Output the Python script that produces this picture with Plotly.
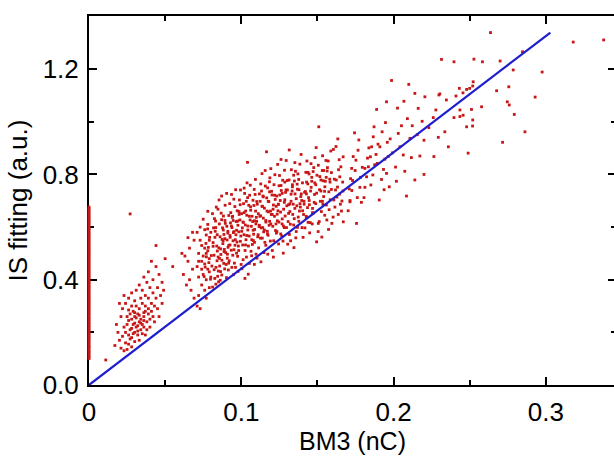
import plotly.graph_objects as go

# shots sitting on the BM3 = 0 axis (only IS fitting value read)
zero_y = [0.100, 0.106, 0.111, 0.118, 0.124, 0.129, 0.135, 0.142, 0.147, 0.153, 0.159, 0.166, 0.171, 0.177,
          0.183, 0.188, 0.195, 0.201, 0.206, 0.212, 0.219, 0.224, 0.230, 0.236, 0.242, 0.248, 0.253, 0.259,
          0.266, 0.271, 0.277, 0.283, 0.289, 0.294, 0.301, 0.306, 0.312, 0.318, 0.324, 0.330, 0.335, 0.341,
          0.348, 0.353, 0.359, 0.365, 0.371, 0.376, 0.383, 0.388, 0.394, 0.400, 0.406, 0.412, 0.417, 0.424,
          0.429, 0.435, 0.441, 0.447, 0.453, 0.458, 0.465, 0.470, 0.476, 0.482, 0.488, 0.494, 0.499, 0.506,
          0.511, 0.517, 0.523, 0.529, 0.535, 0.540, 0.547, 0.552, 0.558, 0.564, 0.570, 0.576, 0.581, 0.588,
          0.593, 0.599, 0.605, 0.611, 0.617, 0.622, 0.629, 0.634, 0.640, 0.646, 0.652, 0.658, 0.663, 0.670,
          0.676]

# low charge group (BM3, IS)
low_pts = [
    (0.027, 0.21), (0.029, 0.23), (0.031, 0.22), (0.033, 0.24), (0.028, 0.25), (0.030, 0.26), (0.032, 0.27),
    (0.034, 0.25), (0.036, 0.26), (0.035, 0.23), (0.026, 0.19), (0.028, 0.18), (0.030, 0.20), (0.032, 0.19),
    (0.034, 0.21), (0.036, 0.22), (0.038, 0.24), (0.037, 0.28), (0.033, 0.29), (0.029, 0.28), (0.025, 0.23),
    (0.024, 0.20), (0.027, 0.27), (0.031, 0.30), (0.035, 0.31), (0.039, 0.27), (0.040, 0.25), (0.038, 0.21),
    (0.033, 0.17), (0.030, 0.165), (0.026, 0.245), (0.028, 0.215), (0.030, 0.235), (0.032, 0.225), (0.034, 0.235),
    (0.036, 0.245), (0.031, 0.255), (0.029, 0.195), (0.027, 0.175), (0.035, 0.195), (0.025, 0.26), (0.023, 0.22),
    (0.022, 0.185), (0.024, 0.16), (0.026, 0.155), (0.028, 0.145), (0.030, 0.32), (0.034, 0.33), (0.037, 0.30),
    (0.039, 0.29), (0.041, 0.28), (0.042, 0.26), (0.040, 0.22), (0.037, 0.19), (0.032, 0.205), (0.030, 0.275),
    (0.033, 0.265), (0.036, 0.275), (0.028, 0.30), (0.026, 0.285),
    (0.020, 0.17), (0.019, 0.20), (0.018, 0.23), (0.021, 0.26), (0.022, 0.29), (0.024, 0.31), (0.026, 0.33),
    (0.028, 0.35), (0.031, 0.36), (0.033, 0.38), (0.035, 0.36), (0.037, 0.34), (0.039, 0.33), (0.041, 0.31),
    (0.043, 0.30), (0.045, 0.29), (0.044, 0.33), (0.042, 0.35), (0.040, 0.37), (0.038, 0.39), (0.036, 0.41),
    (0.039, 0.43), (0.042, 0.40), (0.045, 0.37), (0.047, 0.34), (0.046, 0.42), (0.048, 0.39), (0.044, 0.45),
    (0.041, 0.47), (0.049, 0.36), (0.017, 0.15), (0.021, 0.14), (0.023, 0.13), (0.025, 0.135), (0.011, 0.095),
    (0.027, 0.65), (0.044, 0.53), (0.050, 0.48), (0.055, 0.45), (0.061, 0.50), (0.020, 0.31), (0.023, 0.34),
    (0.046, 0.26), (0.043, 0.24), (0.048, 0.31),
]

# main group, 0.06 - 0.12 nC
mid_pts = [
    (0.062, 0.42), (0.064, 0.38), (0.065, 0.47), (0.066, 0.52), (0.067, 0.36), (0.068, 0.44), (0.069, 0.55),
    (0.063, 0.49), (0.066, 0.40), (0.068, 0.58), (0.069, 0.33), (0.065, 0.56),
    (0.071, 0.30), (0.072, 0.34), (0.073, 0.29), (0.074, 0.38), (0.075, 0.42), (0.071, 0.45), (0.072, 0.50),
    (0.073, 0.55), (0.074, 0.47), (0.076, 0.36), (0.077, 0.40), (0.078, 0.44), (0.079, 0.48), (0.076, 0.52),
    (0.077, 0.57), (0.078, 0.61), (0.079, 0.37), (0.075, 0.63), (0.073, 0.60), (0.071, 0.58), (0.074, 0.53),
    (0.076, 0.46), (0.078, 0.51), (0.079, 0.55), (0.077, 0.33), (0.072, 0.41), (0.075, 0.49), (0.080, 0.41),
    (0.080, 0.58), (0.078, 0.66), (0.074, 0.44), (0.076, 0.59), (0.079, 0.43), (0.072, 0.47), (0.077, 0.50),
    (0.0812, 0.372), (0.0826, 0.405), (0.0834, 0.447), (0.0848, 0.486), (0.0853, 0.521), (0.0861, 0.563),
    (0.0877, 0.597), (0.0883, 0.642), (0.0894, 0.683), (0.0807, 0.452), (0.0821, 0.493), (0.0839, 0.528),
    (0.0842, 0.571), (0.0856, 0.612), (0.0868, 0.653), (0.0872, 0.418), (0.0885, 0.462), (0.0898, 0.503),
    (0.0815, 0.541), (0.0829, 0.584), (0.0831, 0.623), (0.0847, 0.668), (0.0851, 0.392), (0.0864, 0.431),
    (0.0873, 0.474), (0.0889, 0.515), (0.0892, 0.556), (0.0818, 0.597), (0.0824, 0.632), (0.0836, 0.676),
    (0.0845, 0.413), (0.0858, 0.452), (0.0866, 0.496), (0.0879, 0.537), (0.0886, 0.572), (0.0895, 0.614),
    (0.0811, 0.651), (0.0833, 0.383), (0.0854, 0.703), (0.0871, 0.718), (0.0891, 0.441), (0.0862, 0.398),
    (0.0843, 0.509), (0.0881, 0.548), (0.0822, 0.438), (0.0904, 0.728),
    (0.0903, 0.408), (0.0915, 0.437), (0.0921, 0.472), (0.0934, 0.512), (0.0946, 0.548), (0.0952, 0.583),
    (0.0967, 0.621), (0.0973, 0.662), (0.0988, 0.703), (0.0995, 0.741), (0.0908, 0.482), (0.0913, 0.523),
    (0.0927, 0.561), (0.0939, 0.598), (0.0941, 0.637), (0.0958, 0.678), (0.0962, 0.447), (0.0976, 0.489),
    (0.0981, 0.528), (0.0997, 0.566), (0.0905, 0.603), (0.0918, 0.644), (0.0924, 0.689), (0.0936, 0.724),
    (0.0949, 0.419), (0.0955, 0.463), (0.0969, 0.501), (0.0972, 0.543), (0.0984, 0.582), (0.0991, 0.627),
    (0.0907, 0.551), (0.0912, 0.577), (0.0929, 0.616), (0.0931, 0.655), (0.0944, 0.493), (0.0959, 0.531),
    (0.0965, 0.571), (0.0978, 0.607), (0.0986, 0.648), (0.0993, 0.685), (0.0917, 0.463), (0.0938, 0.447),
    (0.0951, 0.706), (0.0963, 0.742), (0.0979, 0.432), (0.0999, 0.458), (0.0926, 0.532), (0.0947, 0.625),
    (0.1004, 0.442), (0.1012, 0.476), (0.1025, 0.511), (0.1031, 0.552), (0.1043, 0.589), (0.1058, 0.627),
    (0.1062, 0.664), (0.1077, 0.702), (0.1085, 0.743), (0.1093, 0.781), (0.1009, 0.532), (0.1018, 0.571),
    (0.1027, 0.608), (0.1036, 0.645), (0.1049, 0.683), (0.1055, 0.721), (0.1068, 0.491), (0.1073, 0.534),
    (0.1081, 0.573), (0.1096, 0.612), (0.1002, 0.651), (0.1015, 0.689), (0.1022, 0.728), (0.1038, 0.768),
    (0.1041, 0.846), (0.1053, 0.462), (0.1064, 0.508), (0.1079, 0.549), (0.1088, 0.591), (0.1099, 0.637),
    (0.1007, 0.597), (0.1014, 0.618), (0.1029, 0.661), (0.1033, 0.698), (0.1047, 0.528), (0.1052, 0.566),
    (0.1066, 0.603), (0.1071, 0.641), (0.1083, 0.682), (0.1091, 0.724), (0.1024, 0.405), (0.1046, 0.421),
    (0.1059, 0.759), (0.1086, 0.458), (0.1097, 0.497), (0.1019, 0.748), (0.1075, 0.621), (0.1034, 0.486),
    (0.1103, 0.482), (0.1114, 0.521), (0.1126, 0.558), (0.1131, 0.597), (0.1145, 0.634), (0.1152, 0.672),
    (0.1167, 0.711), (0.1173, 0.749), (0.1188, 0.787), (0.1194, 0.822), (0.1108, 0.563), (0.1117, 0.602),
    (0.1122, 0.641), (0.1139, 0.679), (0.1143, 0.718), (0.1158, 0.756), (0.1161, 0.531), (0.1176, 0.569),
    (0.1183, 0.607), (0.1197, 0.648), (0.1105, 0.687), (0.1119, 0.726), (0.1128, 0.764), (0.1136, 0.803),
    (0.1166, 0.886), (0.1149, 0.503), (0.1155, 0.542), (0.1171, 0.584), (0.1186, 0.622), (0.1192, 0.661),
    (0.1101, 0.622), (0.1112, 0.651), (0.1124, 0.698), (0.1133, 0.737), (0.1147, 0.582), (0.1162, 0.619),
    (0.1178, 0.658), (0.1181, 0.697), (0.1199, 0.736), (0.1185, 0.772), (0.1129, 0.468), (0.1157, 0.815),
    (0.1174, 0.497), (0.1191, 0.547), (0.1141, 0.598),
]

# densest part of the main group
core_pts = [
    (0.0756, 0.412), (0.0763, 0.448), (0.0771, 0.487), (0.0784, 0.523), (0.0792, 0.561), (0.0768, 0.538),
    (0.0787, 0.465), (0.0798, 0.402), (0.0803, 0.492), (0.0815, 0.527), (0.0827, 0.561), (0.0832, 0.598),
    (0.0841, 0.472), (0.0849, 0.433), (0.0779, 0.593),
    (0.0857, 0.481), (0.0865, 0.517), (0.0874, 0.553), (0.0882, 0.589), (0.0893, 0.625), (0.0901, 0.458),
    (0.0909, 0.497), (0.0918, 0.531), (0.0926, 0.568), (0.0935, 0.604), (0.0943, 0.641), (0.0952, 0.514),
    (0.0961, 0.552), (0.0969, 0.588), (0.0977, 0.623), (0.0985, 0.659), (0.0994, 0.546), (0.0871, 0.628),
    (0.0887, 0.507), (0.0912, 0.584), (0.0948, 0.579), (0.0983, 0.511),
    (0.1003, 0.584), (0.1011, 0.619), (0.1019, 0.655), (0.1028, 0.532), (0.1036, 0.568), (0.1044, 0.604),
    (0.1053, 0.641), (0.1061, 0.677), (0.1069, 0.552), (0.1078, 0.588), (0.1086, 0.624), (0.1094, 0.661),
    (0.1102, 0.697), (0.1111, 0.571), (0.1119, 0.607), (0.1127, 0.643), (0.1136, 0.679), (0.1144, 0.715),
    (0.1152, 0.589), (0.1161, 0.625), (0.1169, 0.661), (0.1177, 0.698), (0.1186, 0.734), (0.1194, 0.612),
    (0.1042, 0.712), (0.1087, 0.542), (0.1138, 0.558), (0.1172, 0.574),
    (0.1203, 0.648), (0.1211, 0.684), (0.1219, 0.721), (0.1228, 0.612), (0.1236, 0.649), (0.1244, 0.686),
    (0.1253, 0.722), (0.1261, 0.758), (0.1269, 0.631), (0.1278, 0.668), (0.1286, 0.704), (0.1294, 0.741),
    (0.1302, 0.777), (0.1311, 0.652), (0.1319, 0.688), (0.1327, 0.725), (0.1336, 0.761), (0.1344, 0.797),
    (0.1352, 0.671), (0.1361, 0.708), (0.1369, 0.744), (0.1377, 0.781), (0.1386, 0.689), (0.1394, 0.726),
    (0.1231, 0.577), (0.1283, 0.598), (0.1348, 0.632),
    (0.1403, 0.662), (0.1412, 0.698), (0.1421, 0.735), (0.1429, 0.771), (0.1438, 0.808), (0.1446, 0.701),
    (0.1455, 0.737), (0.1463, 0.774), (0.1472, 0.811), (0.1481, 0.724), (0.1489, 0.761), (0.1497, 0.797),
    (0.1506, 0.835), (0.1514, 0.742), (0.1523, 0.779), (0.1532, 0.815), (0.1541, 0.716), (0.1549, 0.753),
    (0.1558, 0.789), (0.1566, 0.826), (0.1575, 0.734), (0.1583, 0.771), (0.1592, 0.807), (0.1427, 0.641),
    (0.1468, 0.671), (0.1536, 0.687),
]

# main group, 0.12 - 0.20 nC
upper_pts = [
    (0.1204, 0.511), (0.1213, 0.548), (0.1225, 0.587), (0.1237, 0.624), (0.1241, 0.662), (0.1256, 0.701),
    (0.1263, 0.739), (0.1272, 0.778), (0.1284, 0.816), (0.1295, 0.853), (0.1207, 0.603), (0.1218, 0.641),
    (0.1229, 0.679), (0.1233, 0.718), (0.1248, 0.757), (0.1251, 0.796), (0.1266, 0.566), (0.1277, 0.604),
    (0.1288, 0.642), (0.1299, 0.681), (0.1202, 0.722), (0.1215, 0.761), (0.1221, 0.799), (0.1239, 0.838),
    (0.1245, 0.536), (0.1259, 0.574), (0.1268, 0.612), (0.1276, 0.501), (0.1283, 0.694), (0.1291, 0.732),
    (0.1209, 0.668), (0.1223, 0.705), (0.1234, 0.583), (0.1247, 0.619), (0.1258, 0.657), (0.1261, 0.857),
    (0.1274, 0.547), (0.1286, 0.771), (0.1297, 0.598), (0.1211, 0.486), (0.1243, 0.687), (0.1269, 0.728),
    (0.1305, 0.535), (0.1316, 0.572), (0.1322, 0.611), (0.1338, 0.648), (0.1341, 0.687), (0.1353, 0.726),
    (0.1367, 0.763), (0.1372, 0.802), (0.1385, 0.839), (0.1393, 0.876), (0.1308, 0.621), (0.1319, 0.659),
    (0.1327, 0.698), (0.1334, 0.737), (0.1349, 0.775), (0.1356, 0.812), (0.1361, 0.583), (0.1378, 0.622),
    (0.1382, 0.661), (0.1397, 0.701), (0.1303, 0.741), (0.1314, 0.779), (0.1329, 0.818), (0.1315, 0.893),
    (0.1346, 0.522), (0.1358, 0.559), (0.1369, 0.599), (0.1374, 0.638), (0.1388, 0.676), (0.1391, 0.716),
    (0.1311, 0.685), (0.1336, 0.753), (0.1344, 0.608), (0.1365, 0.681), (0.1379, 0.742), (0.1399, 0.598),
    (0.1324, 0.548), (0.1352, 0.845),
    (0.1406, 0.561), (0.1418, 0.597), (0.1427, 0.636), (0.1435, 0.674), (0.1442, 0.712), (0.1459, 0.751),
    (0.1463, 0.789), (0.1476, 0.826), (0.1484, 0.864), (0.1492, 0.902), (0.1409, 0.648), (0.1413, 0.687),
    (0.1428, 0.726), (0.1437, 0.764), (0.1445, 0.802), (0.1458, 0.841), (0.1466, 0.612), (0.1471, 0.651),
    (0.1489, 0.689), (0.1495, 0.729), (0.1402, 0.768), (0.1424, 0.808), (0.1431, 0.851), (0.1449, 0.578),
    (0.1453, 0.617), (0.1468, 0.655), (0.1479, 0.694), (0.1495, 0.544), (0.1416, 0.732), (0.1447, 0.685),
    (0.1483, 0.768), (0.1439, 0.618),
    (0.1505, 0.583), (0.1512, 0.621), (0.1526, 0.659), (0.1533, 0.698), (0.1547, 0.736), (0.1552, 0.774),
    (0.1564, 0.813), (0.1571, 0.851), (0.1588, 0.889), (0.1506, 0.614), (0.1519, 0.698), (0.1523, 0.737),
    (0.1538, 0.776), (0.1541, 0.815), (0.1556, 0.853), (0.1562, 0.627), (0.1577, 0.666), (0.1584, 0.704),
    (0.1592, 0.743), (0.1509, 0.981), (0.1516, 0.792), (0.1534, 0.871), (0.1548, 0.645), (0.1559, 0.684),
    (0.1573, 0.591), (0.1595, 0.614), (0.1529, 0.562), (0.1581, 0.782),
    (0.1603, 0.638), (0.1615, 0.676), (0.1628, 0.714), (0.1632, 0.752), (0.1647, 0.791), (0.1654, 0.829),
    (0.1669, 0.867), (0.1608, 0.703), (0.1619, 0.741), (0.1624, 0.779), (0.1639, 0.818), (0.1643, 0.856),
    (0.1658, 0.661), (0.1661, 0.699), (0.1668, 0.737), (0.1670, 0.620), (0.1605, 0.895), (0.1622, 0.906),
    (0.1637, 0.648), (0.1651, 0.687), (0.1666, 0.771), (0.1611, 0.782), (0.1645, 0.725), (0.1634, 0.935),
    (0.1702, 0.662), (0.1714, 0.701), (0.1726, 0.739), (0.1731, 0.777), (0.1748, 0.815), (0.1753, 0.854),
    (0.1767, 0.892), (0.1772, 0.931), (0.1709, 0.745), (0.1718, 0.784), (0.1725, 0.823), (0.1735, 0.868),
    (0.1714, 0.696), (0.1757, 0.614), (0.1762, 0.712), (0.1779, 0.751), (0.1783, 0.789), (0.1795, 0.827),
    (0.1744, 0.958), (0.1789, 0.694),
    (0.1806, 0.712), (0.1812, 0.751), (0.1823, 0.791), (0.1835, 0.829), (0.1848, 0.867), (0.1856, 0.905),
    (0.1867, 0.943), (0.1872, 0.981), (0.1889, 1.047), (0.1812, 0.823), (0.1829, 0.862), (0.1838, 0.901),
    (0.1851, 0.760), (0.1864, 0.798), (0.1876, 0.837), (0.1885, 0.876), (0.1893, 0.842), (0.1898, 0.915),
    (0.1906, 0.703), (0.1910, 0.905), (0.1921, 0.781), (0.1934, 0.819), (0.1943, 0.858), (0.1954, 1.076),
    (0.1954, 0.804), (0.1965, 0.868), (0.1972, 0.753), (0.1978, 0.935), (0.1987, 1.157), (0.1925, 0.962),
    (0.1947, 0.997), (0.1959, 0.922), (0.1993, 0.882), (0.1938, 0.742),
]

# sparse tail above 0.2 nC
tail_pts = [
    (0.2026, 1.052), (0.2042, 0.905), (0.2064, 0.874), (0.2085, 0.718), (0.2100, 1.142), (0.2108, 0.937),
    (0.2013, 0.828), (0.2031, 0.956), (0.2052, 0.985), (0.2074, 0.812), (0.2091, 1.012), (0.2019, 0.774),
    (0.2068, 1.078), (0.2140, 0.779), (0.2140, 1.108), (0.2162, 1.051), (0.2173, 0.870), (0.2200, 0.800),
    (0.2200, 0.930), (0.2123, 0.985), (0.2156, 0.951), (0.2188, 1.002), (0.2117, 0.864), (0.2206, 1.095),
    (0.2261, 1.016), (0.2265, 0.868), (0.2294, 0.941), (0.2298, 1.102), (0.2232, 0.978), (0.2278, 1.045),
    (0.2304, 1.106), (0.2315, 1.237), (0.2337, 0.962), (0.2347, 1.083), (0.2360, 0.905), (0.2397, 1.228),
    (0.2397, 1.016), (0.2410, 1.098), (0.2432, 1.127), (0.2436, 1.020), (0.2436, 1.045), (0.2456, 1.110),
    (0.2457, 1.025), (0.2480, 1.123), (0.2480, 0.981), (0.2490, 0.881), (0.2500, 1.127), (0.2512, 1.047),
    (0.2519, 0.984), (0.2520, 1.007), (0.2520, 1.136), (0.2523, 1.152), (0.2528, 1.238), (0.2578, 1.057),
    (0.2584, 1.228), (0.2637, 1.339), (0.2677, 1.118), (0.2700, 1.231), (0.2716, 0.922), (0.2747, 1.076),
    (0.2757, 1.133), (0.2760, 1.064), (0.2786, 1.197), (0.2793, 1.028), (0.2847, 1.266), (0.2863, 0.962),
    (0.2930, 1.094), (0.2976, 1.189), (0.3180, 1.303), (0.3380, 1.311),
]

# linear reference line
fit_x = [0.0, 0.303]
fit_y = [0.0, 1.339]

pts = low_pts + mid_pts + core_pts + upper_pts + tail_pts
scatter_x = [0.0] * len(zero_y) + [p[0] for p in pts]
scatter_y = zero_y + [p[1] for p in pts]

fig = go.Figure()
fig.add_trace(go.Scatter(x=scatter_x, y=scatter_y, mode='markers', cliponaxis=False,
                         marker=dict(symbol='square', size=2.8, color='rgb(200,22,22)', line=dict(width=0)),
                         showlegend=False))
fig.add_trace(go.Scatter(x=fit_x, y=fit_y, mode='lines', line=dict(color='rgb(30,30,205)', width=2.2),
                         showlegend=False))

tick_style = dict(ticks='inside', ticklen=8, tickwidth=2, tickcolor='black',
                  showline=True, linewidth=2, linecolor='black', mirror='ticks',
                  showgrid=False, zeroline=False, layer='below traces', automargin=False,
                  tickfont=dict(size=26))
minor_style = dict(ticks='inside', ticklen=5, tickwidth=2, tickcolor='black')

fig.update_layout(
    width=616, height=457,
    margin=dict(l=89, r=0, t=16, b=72),
    plot_bgcolor='white', paper_bgcolor='white',
    font=dict(family='Liberation Sans, Arial, sans-serif', color='black'),
    xaxis=dict(range=[0, 0.3461], tickvals=[0, 0.1, 0.2, 0.3], ticktext=['0', '0.1', '0.2', '0.3'],
               minor=dict(tickvals=[0.05, 0.15, 0.25], **minor_style), ticklabelstandoff=3,
               title=dict(text='BM3 (nC)', font=dict(size=25), standoff=5), **tick_style),
    yaxis=dict(range=[0, 1.402], tickvals=[0, 0.4, 0.8, 1.2], ticktext=['0.0', '0.4', '0.8', '1.2'],
               minor=dict(tickvals=[0.2, 0.6, 1.0], **minor_style), ticklabelstandoff=3,
               title=dict(text='IS fitting (a.u.)', font=dict(size=26), standoff=8), **tick_style),
)

# drop the default body margin so the figure sits at the page corner
fig.write_html("out.html", config={'displayModeBar': False},
               post_script="document.body.style.margin = '0';")
